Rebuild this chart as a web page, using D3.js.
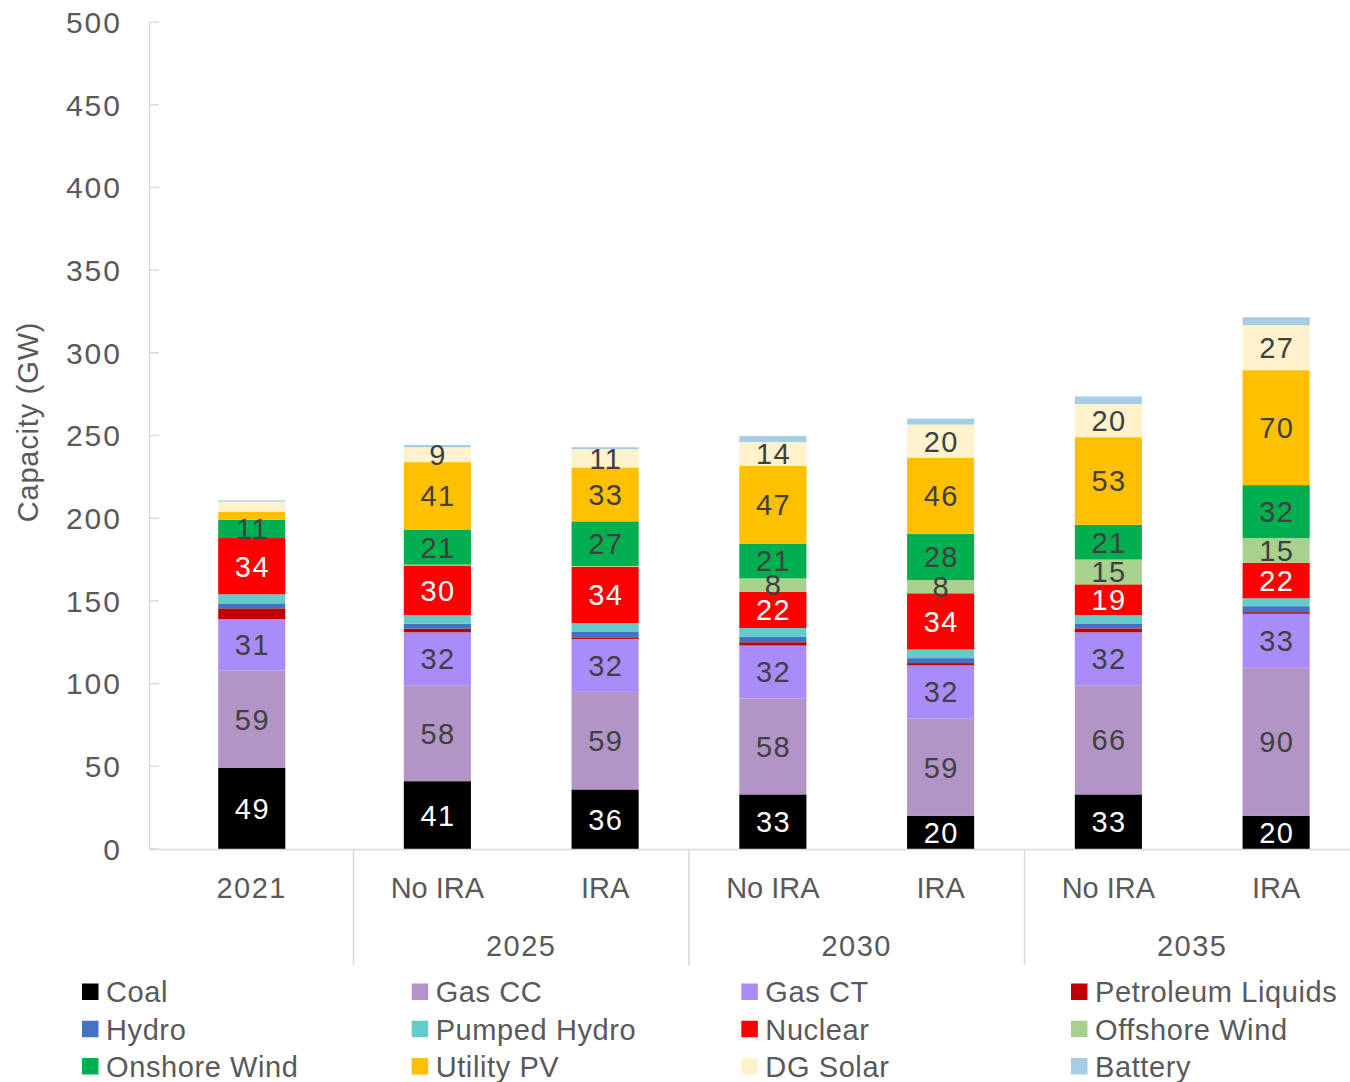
<!DOCTYPE html>
<html>
<head>
<meta charset="utf-8">
<script src="https://cdn.jsdelivr.net/npm/d3@7"></script>
<style>
  html, body { margin: 0; padding: 0; background: #fff; }
  svg { display: block; font-family: "Liberation Sans", Arial, sans-serif; }
</style>
</head>
<body>
<svg id="chart" width="1350" height="1082"></svg>
<script>
// ---- Data ----
const categories = ["2021", "No IRA", "IRA", "No IRA", "IRA", "No IRA", "IRA"];
const groups = ["", "2025", "2025", "2030", "2030", "2035", "2035"];
const groupLabels = ["2025", "2030", "2035"];
const seriesNames = ["Coal", "Gas CC", "Gas CT", "Petroleum Liquids", "Hydro", "Pumped Hydro",
  "Nuclear", "Offshore Wind", "Onshore Wind", "Utility PV", "DG Solar", "Battery"];
const seriesColors = ["#000000", "#B294C7", "#A98BFA", "#C00000", "#4472C4", "#63CCCA",
  "#FF0000", "#A9D18E", "#00B050", "#FFC000", "#FFF2CC", "#A6CDE6"];
const labelColors = ["#ffffff", "#404040", "#404040", null, null, null,
  "#ffffff", "#404040", "#404040", "#404040", "#404040", null];

const coal        = [49, 41, 36, 33, 20, 33, 20];
const gasCC       = [59, 58, 59, 58, 59, 66, 89.6];
const gasCT       = [31, 32, 32, 32, 32, 32, 32.6];
const petroleum   = [6.5, 2.2, 1.0, 2.0, 1.4, 2.4, 1.0];
const hydro       = [3.0, 3.0, 3.2, 3.2, 3.0, 3.0, 3.6];
const pumpedHydro = [5.5, 5.2, 5.4, 5.4, 5.2, 5.0, 4.8];
const nuclear     = [34, 30, 34, 22, 34, 18.6, 21.5];
const offshore    = [0, 0.5, 0.5, 8, 8, 15, 14.9];
const onshore     = [11, 21, 27, 21, 28, 21, 32];
const utilityPV   = [5, 41, 32.6, 47, 46, 53, 69.5];
const dgSolar     = [6, 9, 11, 14.4, 20, 20, 27.2];
const battery     = [0.8, 1.4, 1.2, 3.6, 3.6, 4.6, 4.8];
const seriesValues = [coal, gasCC, gasCT, petroleum, hydro, pumpedHydro, nuclear,
  offshore, onshore, utilityPV, dgSolar, battery];

const yTicks = [0, 50, 100, 150, 200, 250, 300, 350, 400, 450, 500];
const labelMin = 8;

// ---- Layout ----
const svg = d3.select("#chart");
const textColor = "#595959";
const axisColor = "#D9D9D9";
const fontSize = 29;
const digitSpacing = "1.5px";

const y = d3.scaleLinear().domain([0, 500]).range([849, 22]);
// slot scale: 2021 occupies a wider slot, then six equal slots
const slot = d3.scaleLinear().domain([0, 1, 7]).range([150, 353.5, 1360]);
const barW = (slot(2) - slot(1)) * 0.4;
const slotCenter = i => slot(i + 0.5);

// stacked data
const rows = categories.map((c, i) => {
  const o = { idx: i };
  seriesNames.forEach((s, k) => o[s] = seriesValues[k][i]);
  return o;
});
const stack = d3.stack().keys(seriesNames)(rows);

// bars
const layers = svg.append("g").selectAll("g").data(stack).join("g")
  .attr("fill", (d, k) => seriesColors[k]);
layers.selectAll("rect").data(d => d).join("rect")
  .attr("x", d => slotCenter(d.data.idx) - barW / 2)
  .attr("width", barW)
  .attr("y", d => y(d[1]))
  .attr("height", d => Math.max(0, y(d[0]) - y(d[1])));

// labels
stack.forEach((layer, k) => {
  if (!labelColors[k]) return;
  svg.append("g").selectAll("text").data(layer.filter(d => (d[1] - d[0]) >= labelMin)).join("text")
    .attr("x", d => slotCenter(d.data.idx) + 0.75)
    .attr("y", d => y((d[0] + d[1]) / 2))
    .attr("dy", "0.36em")
    .attr("text-anchor", "middle")
    .attr("font-size", fontSize)
    .attr("letter-spacing", digitSpacing)
    .attr("fill", labelColors[k])
    .text(d => Math.round(d[1] - d[0]));
});

// y axis
const yAxis = svg.append("g");
yAxis.append("line").attr("x1", 149.5).attr("x2", 149.5).attr("y1", y(500)).attr("y2", y(0))
  .attr("stroke", axisColor).attr("stroke-width", 1.5);
yAxis.selectAll("line.tick").data(yTicks).join("line").attr("class", "tick")
  .attr("x1", 149.5).attr("x2", 159).attr("y1", d => y(d)).attr("y2", d => y(d))
  .attr("stroke", axisColor).attr("stroke-width", 1.5);
yAxis.selectAll("text").data(yTicks).join("text")
  .attr("x", 122).attr("y", d => y(d)).attr("dy", "0.36em")
  .attr("text-anchor", "end").attr("font-size", 30).attr("letter-spacing", "2px")
  .attr("fill", textColor)
  .text(d => d);

svg.append("text")
  .attr("transform", `translate(38,422) rotate(-90)`)
  .attr("text-anchor", "middle").attr("font-size", 29).attr("letter-spacing", "0.8px")
  .attr("fill", textColor)
  .text("Capacity (GW)");

// x axis
const xAxis = svg.append("g");
xAxis.append("line").attr("x1", 149.5).attr("x2", 1350).attr("y1", 849.5).attr("y2", 849.5)
  .attr("stroke", axisColor).attr("stroke-width", 1.5);
// separators at group boundaries
const sepIdx = [1, 3, 5];
xAxis.selectAll("line.sep").data(sepIdx).join("line").attr("class", "sep")
  .attr("x1", d => slot(d)).attr("x2", d => slot(d)).attr("y1", 849.5).attr("y2", 965)
  .attr("stroke", axisColor).attr("stroke-width", 1.5);
xAxis.selectAll("text.cat").data(categories).join("text").attr("class", "cat")
  .attr("x", (d, i) => slotCenter(i)).attr("y", 888).attr("dy", "0.36em")
  .attr("text-anchor", "middle").attr("font-size", fontSize).attr("fill", textColor)
  .attr("letter-spacing", d => /^\d+$/.test(d) ? digitSpacing : "0px")
  .text(d => d);
xAxis.selectAll("text.grp").data(groupLabels).join("text").attr("class", "grp")
  .attr("x", (d, i) => slot(1 + 2 * i + 1)).attr("y", 946).attr("dy", "0.36em")
  .attr("text-anchor", "middle").attr("font-size", fontSize).attr("fill", textColor)
  .attr("letter-spacing", digitSpacing)
  .text(d => d);

// legend
const legCols = d3.scaleLinear().domain([0, 3]).range([82, 1071]);
const legRows = d3.scaleLinear().domain([0, 2]).range([992, 1066.5]);
const leg = svg.append("g").selectAll("g").data(seriesNames).join("g")
  .attr("transform", (d, i) => `translate(${legCols(i % 4)},${legRows(Math.floor(i / 4))})`);
leg.append("rect").attr("x", 0).attr("y", -8.5).attr("width", 16.5).attr("height", 16.5)
  .attr("fill", (d, i) => seriesColors[i]);
leg.append("text").attr("x", 24).attr("y", 0).attr("dy", "0.36em")
  .attr("font-size", fontSize).attr("letter-spacing", "0.6px")
  .attr("fill", textColor).text(d => d);
</script>
</body>
</html>
